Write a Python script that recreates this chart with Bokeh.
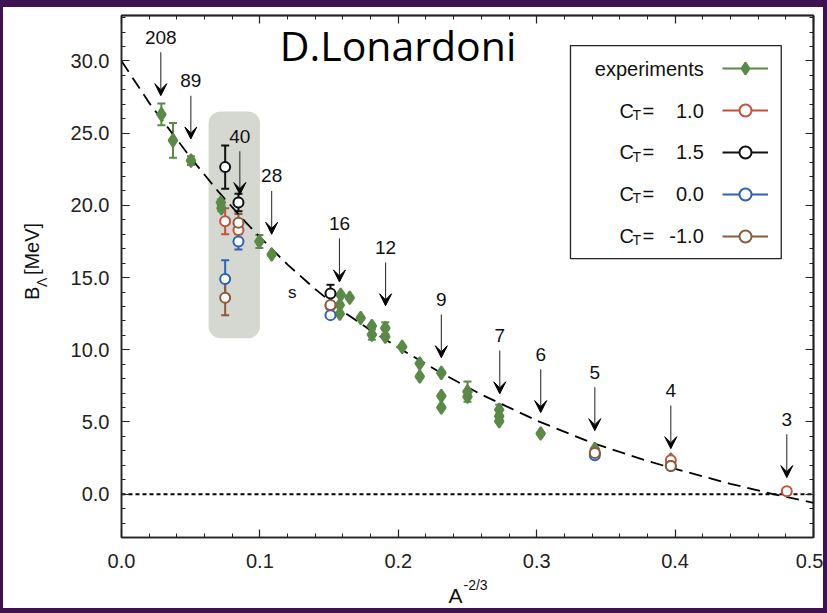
import math
from bokeh.plotting import figure
from bokeh.models import (ColumnDataSource, Whisker, TeeHead, Arrow, VeeHead, Label, LabelSet,
                          Span, BoxAnnotation, LinearAxis, FixedTicker, PrintfTickFormatter,
                          Range1d, Legend, LegendItem)
from bokeh.layouts import column, row
from bokeh.core.properties import value
from bokeh.embed import file_html
from bokeh.resources import INLINE

# ---------------- data ----------------
exp_x = [0.0288, 0.0372, 0.0502, 0.0718, 0.0722, 0.0996, 0.1085, 0.1584, 0.1649, 0.1577,
         0.1577, 0.1728, 0.1809, 0.1809, 0.1906, 0.1906, 0.2028, 0.2155, 0.2155, 0.2311,
         0.2311, 0.2311, 0.2500, 0.2500, 0.2729, 0.2729, 0.2729, 0.3029, 0.3420, 0.3969,
         0.3969]
exp_y = [26.3, 24.5, 23.1, 20.2, 19.8, 17.5, 16.6, 13.8, 13.6, 13.1,
         12.5, 12.2, 11.65, 11.05, 11.5, 10.9, 10.2, 9.05, 8.15, 8.4,
         6.8, 6.0, 7.1, 6.75, 5.85, 5.4, 5.05, 4.2, 3.12, 2.39,
         2.04]
exp_err = [0.75, 1.2, 0.3, 0.2, 0.2, 0.45, 0.1, 0.1, 0.1, 0.1,
           0.1, 0.1, 0.1, 0.35, 0.4, 0.1, 0.1, 0.1, 0.1, 0.1,
           0.1, 0.1, 0.7, 0.1, 0.35, 0.1, 0.1, 0.1, 0.1, 0.1,
           0.1]

ct10_x = [0.0749, 0.0845, 0.1510, 0.3420, 0.3969, 0.4807]
ct10_y = [18.9, 18.3, 13.05, 2.85, 2.35, 0.2]
ct10_err = [0.9, 0.3, 0.1, 0.1, 0.1, 0.05]

ct15_x = [0.0749, 0.0845, 0.1510]
ct15_y = [22.65, 20.2, 13.9]
ct15_err = [1.5, 0.6, 0.6]

ct00_x = [0.0749, 0.0845, 0.1510, 0.3420, 0.3969]
ct00_y = [14.9, 17.5, 12.4, 2.7, 1.95]
ct00_err = [1.3, 0.55, 0.2, 0.1, 0.1]

ctm10_x = [0.0749, 0.0845, 0.1510, 0.3420, 0.3969]
ctm10_y = [13.6, 18.8, 13.1, 2.85, 1.95]
ctm10_err = [1.2, 0.6, 0.2, 0.1, 0.1]

curve_x = [0.0, 0.02, 0.05, 0.07, 0.09, 0.10, 0.12, 0.14, 0.16, 0.18, 0.20, 0.23, 0.26,
           0.30, 0.34, 0.38, 0.40, 0.44, 0.47, 0.50]
curve_y = [30.0, 27.1, 23.3, 20.95, 18.8, 17.8, 15.9, 14.2, 12.65, 11.35, 10.15, 8.45, 6.9,
           5.1, 3.55, 2.3, 1.75, 0.72, 0.02, -0.6]

arrow_labels = ["208", "89", "40", "28", "16", "12", "9", "7", "6", "5", "4", "3"]
arrow_x = [0.0284, 0.0501, 0.0855, 0.1085, 0.1575, 0.1908, 0.2311, 0.2733, 0.3029, 0.3420,
           0.3969, 0.4807]
arrow_tip = [27.6, 24.6, 20.75, 18.0, 14.7, 13.05, 9.45, 6.95, 5.65, 4.4, 3.15, 1.15]

x_ticks = [0.0, 0.1, 0.2, 0.3, 0.4, 0.5]
y_ticks = [0, 5, 10, 15, 20, 25, 30]
x_minor = [round(i * 0.02, 2) for i in range(0, 26)]
y_minor = list(range(-3, 34))

legend_names = ["experiments", "1.0", "1.5", "0.0", "-1.0"]

# ---------------- styles ----------------
GREEN = "#5b8a48"
RED = "#c4503d"
BLACK = "#111111"
BLUE = "#2d63b4"
BROWN = "#8b5b3c"
FONT = "Liberation Sans"
TXT = "#111111"
AX = "#222222"

p = figure(frame_width=692, frame_height=522,
           x_range=Range1d(0, 0.5), y_range=Range1d(-3.0, 33.15),
           output_backend="svg", toolbar_location=None,
           min_border_left=63, min_border_right=10, min_border_top=8, min_border_bottom=39,
           background_fill_color="white", border_fill_color="white")
p.grid.visible = False
p.outline_line_color = AX
p.outline_line_width = 1.5


def style_axis(ax, ticks, minor):
    ax.ticker = FixedTicker(ticks=ticks, minor_ticks=minor)
    ax.formatter = PrintfTickFormatter(format="%.1f")
    ax.major_tick_in = 8
    ax.major_tick_out = 0
    ax.minor_tick_in = 4
    ax.minor_tick_out = 0
    ax.axis_line_color = AX
    ax.axis_line_width = 1.5
    ax.major_tick_line_color = AX
    ax.major_tick_line_width = 1.2
    ax.minor_tick_line_color = AX
    ax.minor_tick_line_width = 1.0
    ax.major_label_text_font = FONT
    ax.major_label_text_font_size = "20px"
    ax.major_label_text_color = AX


style_axis(p.xaxis[0], x_ticks, x_minor)
p.xaxis[0].major_label_standoff = 16
style_axis(p.yaxis[0], y_ticks, y_minor)
p.yaxis[0].major_label_standoff = 12


def mirror_ticks(side, positions, length, width):
    ax = LinearAxis(ticker=FixedTicker(ticks=[], minor_ticks=positions))
    ax.major_tick_in = 0
    ax.major_tick_out = 0
    ax.minor_tick_in = length
    ax.minor_tick_out = 0
    ax.minor_tick_line_color = AX
    ax.minor_tick_line_width = width
    ax.axis_line_color = AX
    ax.axis_line_width = 1.5
    ax.major_label_standoff = 0
    p.add_layout(ax, side)


mirror_ticks("above", x_minor, 4, 1.0)
mirror_ticks("above", x_ticks, 8, 1.2)
mirror_ticks("right", y_minor, 4, 1.0)
mirror_ticks("right", y_ticks, 8, 1.2)

# grey highlight box
p.add_layout(BoxAnnotation(left=0.0629, right=0.1001, bottom=10.8, top=26.5,
                           fill_color="#d5d8d0", fill_alpha=1.0, line_alpha=0,
                           border_radius=12, level="image"))

# zero line
p.add_layout(Span(location=0, dimension="width", line_color="black", line_width=2,
                  line_dash="4 3", level="underlay"))

# fit curve
p.line(curve_x, curve_y, line_color="black", line_width=1.8, line_dash="13 7")


def add_series(xs, ys, errs, color, marker, size, fill):
    src = ColumnDataSource(dict(x=xs, y=ys,
                                lo=[y - e for y, e in zip(ys, errs)],
                                hi=[y + e for y, e in zip(ys, errs)]))
    w = Whisker(base="x", lower="lo", upper="hi", source=src, line_color=color, line_width=2,
                lower_head=TeeHead(size=8, line_color=color, line_width=2),
                upper_head=TeeHead(size=8, line_color=color, line_width=2),
                level="underlay")
    p.add_layout(w)
    return p.scatter("x", "y", source=src, marker=marker, size=size, fill_color=fill,
                     line_color=color, line_width=2)


add_series(exp_x, exp_y, exp_err, GREEN, "diamond", 13, GREEN)
add_series(ct10_x, ct10_y, ct10_err, RED, "circle", 10, "white")
add_series(ct00_x, ct00_y, ct00_err, BLUE, "circle", 10, "white")
add_series(ctm10_x, ctm10_y, ctm10_err, BROWN, "circle", 10, "white")
add_series(ct15_x, ct15_y, ct15_err, BLACK, "circle", 10, "white")

# arrows with mass numbers
asrc = ColumnDataSource(dict(x=arrow_x, tip=arrow_tip,
                             top=[t + 3.0 for t in arrow_tip],
                             ly=[t + 4.05 for t in arrow_tip],
                             t=arrow_labels))
p.add_layout(Arrow(x_start="x", y_start="top", x_end="x", y_end="tip", source=asrc,
                   line_color="#333333", line_width=1.1,
                   end=VeeHead(size=12, fill_color="black", line_color="black", line_width=1)))
p.add_layout(LabelSet(x="x", y="ly", text="t", source=asrc, text_align="center",
                      text_baseline="middle", text_font=value(FONT),
                      text_font_size=value("19px"), text_color=TXT))

p.add_layout(Label(x=0.1234, y=13.97, text="s", text_align="center", text_baseline="middle",
                   text_font=FONT, text_font_size="17px", text_color=TXT))

# author name
p.add_layout(Label(x=0.1998, y=31.1, text="D.Lonardoni", text_align="center",
                   text_baseline="middle", text_font="Open Sans",
                   text_font_size="41px", text_color="black"))

# legend frame and texts
p.add_layout(BoxAnnotation(left=0.3244, right=0.4767, bottom=16.31, top=31.07,
                           fill_color="white", fill_alpha=1.0, line_color=AX,
                           line_alpha=1.0, line_width=1.3, level="underlay"))
row_y = [29.45, 26.56, 23.67, 20.79, 17.91]
p.add_layout(Label(x=0.4207, y=row_y[0], text=legend_names[0], text_align="right",
                   text_baseline="middle", text_font=FONT, text_font_size="20px",
                   text_color=TXT))
for yy, name in zip(row_y[1:], legend_names[1:]):
    p.add_layout(Label(x=0.3598, y=yy, text="C", text_align="left", text_baseline="middle",
                       text_font=FONT, text_font_size="20px", text_color=TXT))
    p.add_layout(Label(x=0.3692, y=yy - 0.3, text="T", text_align="left",
                       text_baseline="middle", text_font=FONT, text_font_size="14px",
                       text_color=TXT))
    p.add_layout(Label(x=0.3765, y=yy, text="=", text_align="left", text_baseline="middle",
                       text_font=FONT, text_font_size="20px", text_color=TXT))
    p.add_layout(Label(x=0.4207, y=yy, text=name, text_align="right", text_baseline="middle",
                       text_font=FONT, text_font_size="20px", text_color=TXT))

nan = float("nan")
leg_renderers = []
for color, marker, fill in [(GREEN, "diamond", GREEN), (RED, "circle", "white"),
                            (BLACK, "circle", "white"), (BLUE, "circle", "white"),
                            (BROWN, "circle", "white")]:
    ln = p.line(x=[nan], y=[nan], line_color=color, line_width=2)
    sc = p.scatter(x=[nan], y=[nan], marker=marker, size=12, fill_color=fill,
                   line_color=color, line_width=2)
    leg_renderers.append([ln, sc])

legend = Legend(items=[LegendItem(label="\u00a0", renderers=rs) for rs in leg_renderers],
                location=(601, 286), glyph_width=46, glyph_height=30, spacing=12,
                padding=0, margin=0, label_standoff=0, label_text_font_size="16px",
                label_height=20, border_line_alpha=0, background_fill_alpha=0)
p.add_layout(legend, "center")


# ---------------- axis titles (separate text panels) ----------------
def text_panel(w, h):
    f = figure(width=w, height=h, x_range=Range1d(0, w), y_range=Range1d(0, h),
               output_backend="svg", toolbar_location=None, min_border=0,
               x_axis_type=None, y_axis_type=None,
               background_fill_color="white", border_fill_color="white")
    f.outline_line_color = None
    return f


fy = text_panel(55, 569)
fy.add_layout(Label(x=28.5, y=259, text="B", angle=math.pi / 2, text_align="left",
                    text_baseline="middle", text_font=FONT, text_font_size="20px",
                    text_color=TXT))
fy.add_layout(Label(x=38.5, y=273, text="\u039b", angle=math.pi / 2, text_align="left",
                    text_baseline="middle", text_font=FONT, text_font_size="14px",
                    text_color=TXT))
fy.add_layout(Label(x=28.5, y=286, text="[MeV]", angle=math.pi / 2, text_align="left",
                    text_baseline="middle", text_font=FONT, text_font_size="20px",
                    text_color=TXT))

fx = text_panel(820, 32)
fx.add_layout(Label(x=452, y=13.5, text="A", text_align="center", text_baseline="middle",
                    text_font=FONT, text_font_size="21px", text_color=TXT))
fx.add_layout(Label(x=460, y=23.5, text="-2/3", text_align="left", text_baseline="middle",
                    text_font=FONT, text_font_size="14px", text_color=TXT))

inner = column(row(fy, p), fx, styles={"background-color": "white"})
layout = column(inner, styles={"background-color": "#3e1250", "padding": "7px 4px 5px 3px"})

open("out.html", "w").write(file_html(layout, INLINE))
